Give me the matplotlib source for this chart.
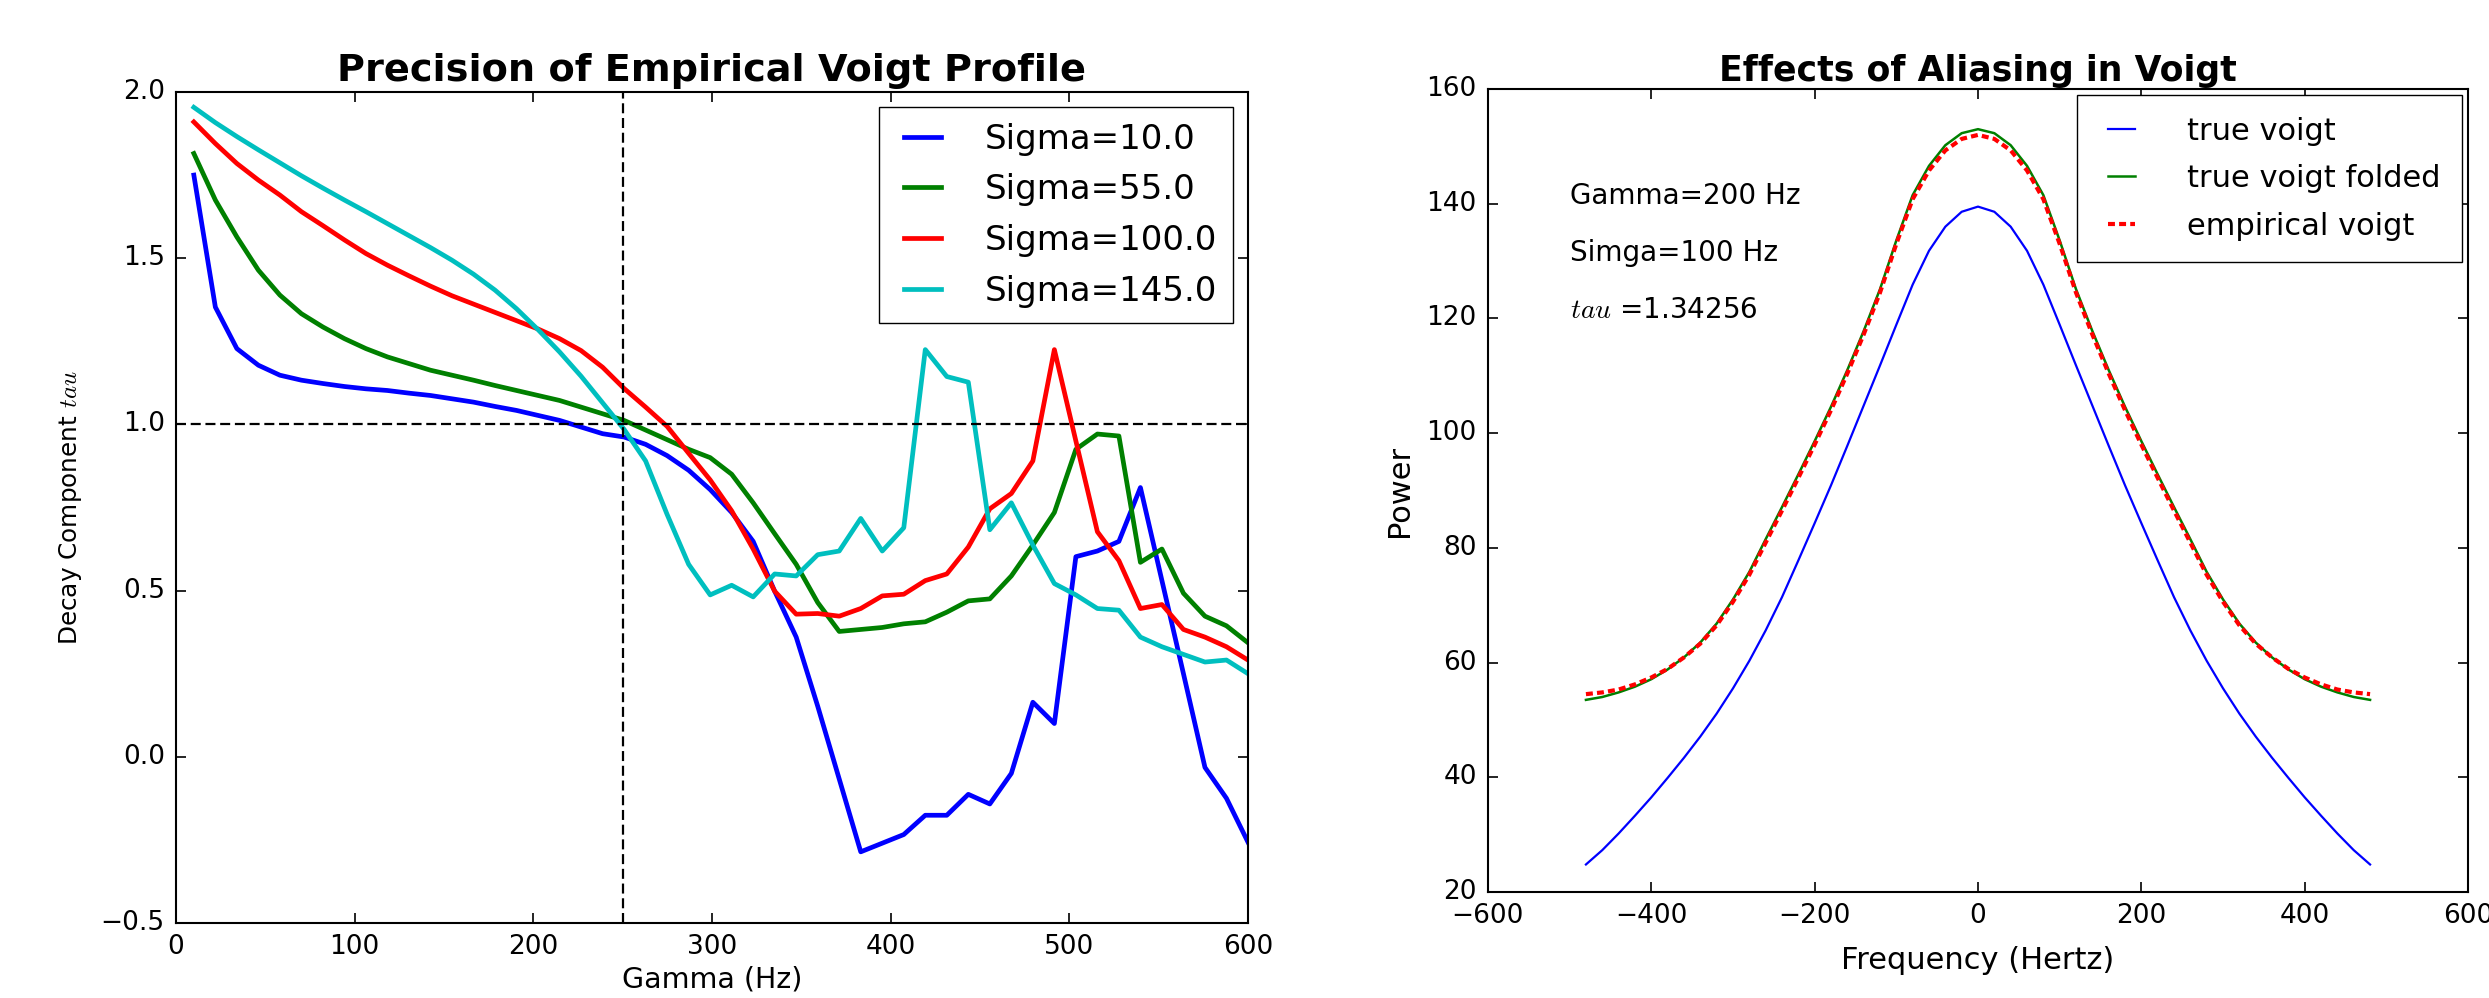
import numpy as np
import matplotlib
matplotlib.use("Agg")
import matplotlib.pyplot as plt

plt.style.use("classic")
plt.rcParams["figure.facecolor"] = "white"
plt.rcParams["savefig.facecolor"] = "white"
plt.rcParams["font.family"] = "DejaVu Sans"

# decay component tau vs Lorentzian width, one run per Gaussian width
gamma = np.linspace(10, 600, 50)
sigmas = [10.0, 55.0, 100.0, 145.0]
tau_s10 = [1.75, 1.353, 1.228, 1.178, 1.148, 1.133, 1.123, 1.114, 1.107, 1.102,
           1.094, 1.087, 1.077, 1.067, 1.054, 1.042, 1.027, 1.012, 0.992, 0.972,
           0.962, 0.940, 0.906, 0.862, 0.804, 0.735, 0.648, 0.498, 0.36, 0.152,
           -0.067, -0.286, -0.26, -0.234, -0.176, -0.176, -0.113, -0.142, -0.05, 0.164,
           0.10, 0.602, 0.619, 0.648, 0.81, 0.53, 0.25, -0.032, -0.125, -0.257]
tau_s55 = [1.815, 1.675, 1.564, 1.464, 1.389, 1.333, 1.293, 1.258, 1.228, 1.203,
           1.183, 1.163, 1.148, 1.133, 1.117, 1.102, 1.087, 1.072, 1.052, 1.032,
           1.012, 0.983, 0.954, 0.925, 0.90, 0.85, 0.764, 0.671, 0.579, 0.464,
           0.377, 0.383, 0.389, 0.40, 0.406, 0.435, 0.469, 0.475, 0.544, 0.637,
           0.735, 0.925, 0.971, 0.965, 0.585, 0.625, 0.492, 0.423, 0.394, 0.343]
tau_s100 = [1.91, 1.845, 1.785, 1.735, 1.69, 1.64, 1.598, 1.555, 1.514, 1.479,
            1.447, 1.416, 1.387, 1.362, 1.337, 1.312, 1.287, 1.258, 1.222, 1.172,
            1.108, 1.052, 0.994, 0.913, 0.833, 0.74, 0.625, 0.498, 0.429, 0.431,
            0.423, 0.446, 0.484, 0.489, 0.53, 0.55, 0.631, 0.746, 0.792, 0.89,
            1.225, 0.95, 0.677, 0.59, 0.446, 0.458, 0.383, 0.36, 0.331, 0.291]
tau_s145 = [1.954, 1.908, 1.866, 1.826, 1.787, 1.748, 1.711, 1.675, 1.64, 1.604,
            1.568, 1.532, 1.494, 1.452, 1.404, 1.348, 1.285, 1.218, 1.145, 1.065,
            0.985, 0.89, 0.729, 0.579, 0.487, 0.516, 0.481, 0.55, 0.544, 0.608,
            0.619, 0.717, 0.619, 0.689, 1.225, 1.144, 1.127, 0.683, 0.764, 0.637,
            0.521, 0.487, 0.446, 0.441, 0.36, 0.331, 0.308, 0.285, 0.291, 0.25]

# power spectra on 0..480 Hz, mirrored about zero frequency
freq_half = [0, 20, 40, 60, 80, 100, 120, 140, 160, 180, 200, 220, 240,
             260, 280, 300, 320, 340, 360, 380, 400, 420, 440, 460, 480]
true_voigt = [139.5, 138.6, 136.0, 131.8, 125.9, 118.9, 111.8, 104.8, 97.8, 90.9,
              84.3, 77.8, 71.4, 65.6, 60.3, 55.5, 51.1, 47.1, 43.4, 39.9,
              36.5, 33.3, 30.2, 27.3, 24.8]
folded_voigt = [153.0, 152.3, 150.2, 146.6, 141.5, 133.6, 125.1, 117.8, 111.0, 104.6,
                98.6, 92.8, 87.1, 81.5, 75.8, 71.0, 66.8, 63.5, 60.9, 58.8,
                57.1, 55.8, 54.8, 54.0, 53.5]
empirical_voigt = [152.0, 151.3, 149.3, 145.8, 140.8, 133.0, 124.5, 117.2, 110.4, 104.0,
                   98.0, 92.2, 86.5, 80.9, 75.3, 70.6, 66.5, 63.3, 60.9, 58.9,
                   57.4, 56.2, 55.3, 54.8, 54.5]


def mirror(half):
    half = np.asarray(half, dtype=float)
    return np.concatenate([half[:0:-1], half])


freq = np.concatenate([-np.asarray(freq_half[:0:-1], dtype=float),
                       np.asarray(freq_half, dtype=float)])

fig = plt.figure(figsize=(24.89, 9.98), dpi=100)
ax1 = fig.add_axes([0.0707, 0.0752, 0.4307, 0.8326])
ax2 = fig.add_axes([0.5978, 0.1062, 0.3938, 0.8046])

colors = ["b", "g", "r", "c"]
for s, vals, c in zip(sigmas, [tau_s10, tau_s55, tau_s100, tau_s145], colors):
    ax1.plot(gamma, vals, color=c, lw=3.4, label="Sigma=%.1f" % s)
ax1.axvline(250, color="k", ls="--", lw=1.6, dashes=(7.2, 3.4))
ax1.axhline(1.0, color="k", ls="--", lw=1.6, dashes=(7.2, 3.4))
ax1.set_xlim(0, 600)
ax1.set_ylim(-0.5, 2.0)
ax1.set_xticks([0, 100, 200, 300, 400, 500, 600])
ax1.set_yticks([-0.5, 0.0, 0.5, 1.0, 1.5, 2.0])
ax1.set_title("Precision of Empirical Voigt Profile", fontsize=27.5,
              fontweight="bold", pad=8)
ax1.set_xlabel("Gamma (Hz)", fontsize=20.5, labelpad=4)
ax1.set_ylabel("Decay Component $tau$", fontsize=17.8, labelpad=12)
ax1.legend(loc="upper right", fontsize=24.5, handlelength=1.67,
           handletextpad=1.0, labelspacing=0.52, borderpad=0.45,
           borderaxespad=0.45)

ax2.plot(freq, mirror(true_voigt), color="b", lw=1.6, label="true voigt")
ax2.plot(freq, mirror(folded_voigt), color="g", lw=1.8, label="true voigt folded")
ax2.plot(freq, mirror(empirical_voigt), color="r", lw=3.0, ls="--", dashes=(5, 3),
         label="empirical voigt")
ax2.set_xlim(-600, 600)
ax2.set_ylim(20, 160)
ax2.set_xticks([-600, -400, -200, 0, 200, 400, 600])
ax2.set_yticks(range(20, 161, 20))
ax2.set_title("Effects of Aliasing in Voigt", fontsize=25, fontweight="bold", pad=6)
ax2.set_xlabel("Frequency (Hertz)", fontsize=22, labelpad=12)
ax2.set_ylabel("Power", fontsize=22, labelpad=9)
ax2.text(-500, 140, "Gamma=200 Hz", fontsize=20)
ax2.text(-500, 130, "Simga=100 Hz", fontsize=20)
ax2.text(-500, 120, "$tau$ =1.34256", fontsize=20)
ax2.legend(loc="upper right", fontsize=22, handlelength=1.5,
           handletextpad=1.4, labelspacing=0.61, borderpad=0.7,
           borderaxespad=0.2)

for ax in (ax1, ax2):
    ax.tick_params(labelsize=19, length=7, width=1.2, pad=8)
    for sp in ax.spines.values():
        sp.set_linewidth(1.5)

fig.savefig("out.png", dpi=100)
